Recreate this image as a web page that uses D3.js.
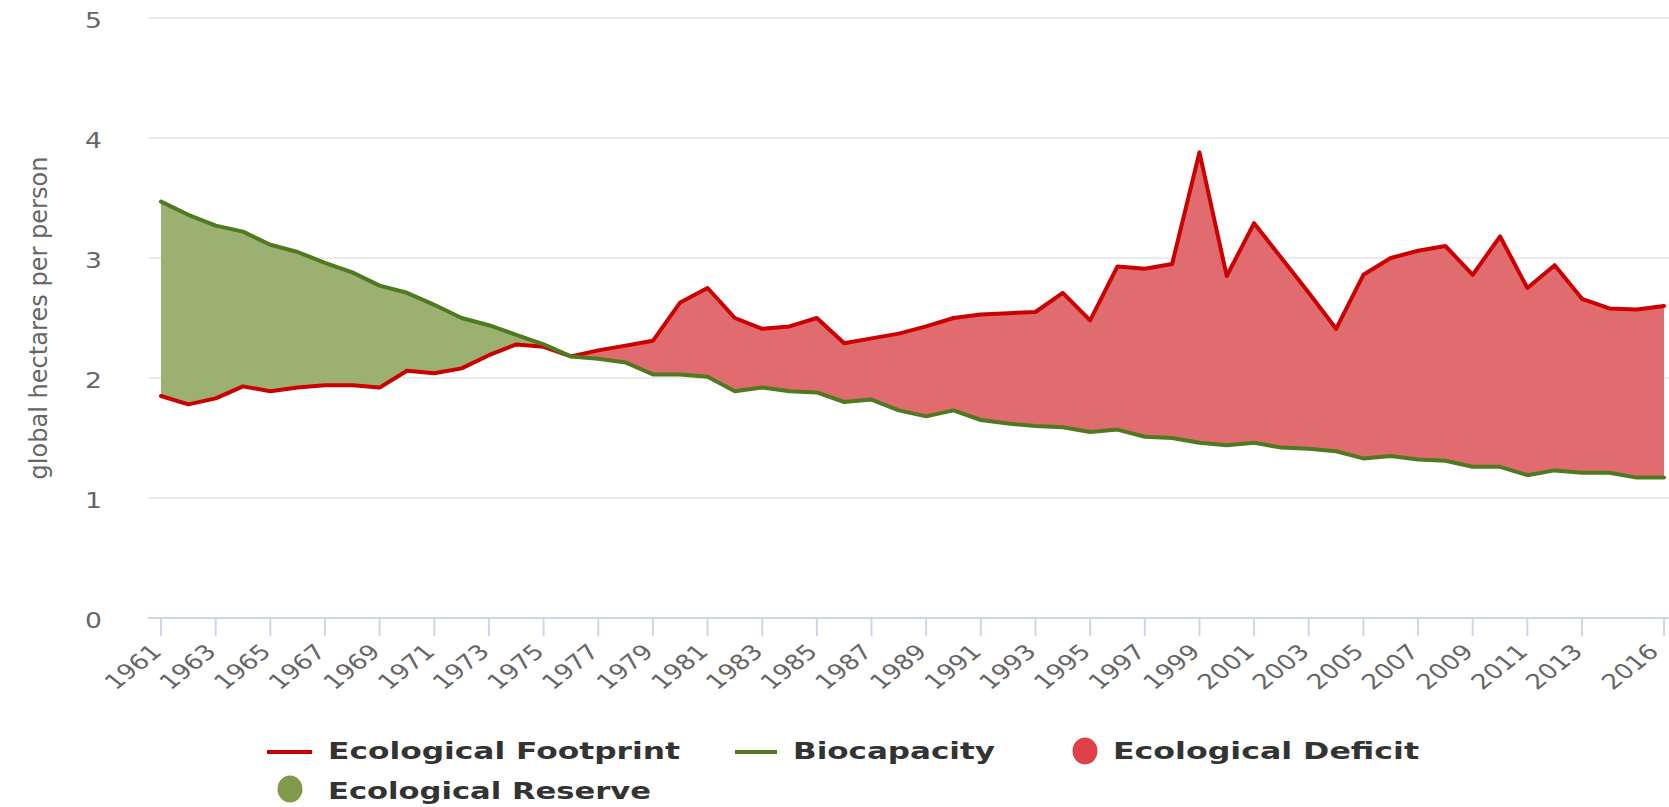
<!DOCTYPE html>
<html>
<head>
<meta charset="utf-8">
<script src="https://cdn.jsdelivr.net/npm/d3@7/dist/d3.min.js"></script>
<style>
  html, body { margin: 0; padding: 0; background: #ffffff; }
  svg { display: block; }
</style>
</head>
<body>
<svg id="chart" width="1669" height="807"></svg>
<script>
// ---------- DATA ----------
const years = [1961,1962,1963,1964,1965,1966,1967,1968,1969,1970,
  1971,1972,1973,1974,1975,1976,1977,1978,1979,1980,
  1981,1982,1983,1984,1985,1986,1987,1988,1989,1990,
  1991,1992,1993,1994,1995,1996,1997,1998,1999,2000,
  2001,2002,2003,2004,2005,2006,2007,2008,2009,2010,
  2011,2012,2013,2014,2015,2016];

const footprint = [1.85,1.78,1.83,1.93,1.89,1.92,1.94,1.94,1.92,2.06,
  2.04,2.08,2.19,2.28,2.26,2.18,2.23,2.27,2.31,2.63,
  2.75,2.50,2.41,2.43,2.50,2.29,2.33,2.37,2.43,2.50,
  2.53,2.54,2.55,2.71,2.48,2.93,2.91,2.95,3.88,2.85,
  3.29,3.00,2.71,2.41,2.86,3.00,3.06,3.10,2.86,3.18,
  2.75,2.94,2.66,2.58,2.57,2.60];

const biocapacity = [3.47,3.36,3.27,3.22,3.11,3.05,2.96,2.88,2.77,2.71,
  2.61,2.50,2.44,2.36,2.28,2.18,2.16,2.13,2.03,2.03,
  2.01,1.89,1.92,1.89,1.88,1.80,1.82,1.73,1.68,1.73,
  1.65,1.62,1.60,1.59,1.55,1.57,1.51,1.50,1.46,1.44,
  1.46,1.42,1.41,1.39,1.33,1.35,1.32,1.31,1.26,1.26,
  1.19,1.23,1.21,1.21,1.17,1.17];

const xTickYears = [1961,1963,1965,1967,1969,1971,1973,1975,1977,1979,
  1981,1983,1985,1987,1989,1991,1993,1995,1997,1999,
  2001,2003,2005,2007,2009,2011,2013,2016];
const yTicks = [0,1,2,3,4,5];
const yTitle = "global hectares per person";
const legendItems = ["Ecological Footprint","Biocapacity","Ecological Deficit","Ecological Reserve"];

// ---------- LAYOUT ----------
const svg = d3.select("#chart");
const X0 = 161, X1 = 1664;     // 1961 .. 2016
const Y0 = 618, Y5 = 18;       // value 0 .. 5
const gridLeft = 148, gridRight = 1669;
const SX = 1.28;

const x = d3.scaleLinear().domain([1961, 2016]).range([X0, X1]);
const y = d3.scaleLinear().domain([0, 5]).range([Y0, Y5]);

const data = years.map((yr, i) => ({ yr, fp: footprint[i], bc: biocapacity[i] }));

const COLORS = {
  fpLine: "#cc0000",
  bcLine: "#4f7a1f",
  deficit: "#e06c70",
  reserve: "#9cb072",
  deficitDot: "#df4246",
  reserveDot: "#7f9b4a",
  grid: "#e6e6e6",
  axis: "#ccd6eb",
  label: "#666666",
  legend: "#333333"
};

// grid lines
svg.append("g").selectAll("line")
  .data(yTicks.filter(v => v > 0))
  .join("line")
  .attr("x1", gridLeft).attr("x2", gridRight)
  .attr("y1", d => y(d)).attr("y2", d => y(d))
  .attr("stroke", COLORS.grid).attr("stroke-width", 1.5);

// y labels
svg.append("g").selectAll("text")
  .data(yTicks)
  .join("text")
  .attr("transform", d => `translate(102,${y(d) + 10}) scale(1.3,1)`)
  .attr("text-anchor", "end")
  .attr("font-family", "DejaVu Sans")
  .attr("font-size", 20.5)
  .attr("fill", COLORS.label)
  .text(d => d);

// y title
svg.append("text")
  .attr("transform", `translate(47,318) scale(${SX},1) rotate(-90)`)
  .attr("text-anchor", "middle")
  .attr("font-family", "DejaVu Sans")
  .attr("font-size", 19.5)
  .attr("fill", COLORS.label)
  .attr("textLength", 323)
  .attr("lengthAdjust", "spacingAndGlyphs")
  .text(yTitle);

// ---------- AREAS ----------
const defs = svg.append("defs");
defs.append("clipPath").attr("id", "clipAbove")
  .append("path").datum(data)
  .attr("d", d3.area().x(d => x(d.yr)).y0(0).y1(d => y(d.fp)));
defs.append("clipPath").attr("id", "clipBelow")
  .append("path").datum(data)
  .attr("d", d3.area().x(d => x(d.yr)).y0(807).y1(d => y(d.fp)));

const between = d3.area().x(d => x(d.yr)).y0(d => y(d.fp)).y1(d => y(d.bc));

svg.append("path").datum(data)
  .attr("clip-path", "url(#clipAbove)")
  .attr("fill", COLORS.reserve)
  .attr("d", between);
svg.append("path").datum(data)
  .attr("clip-path", "url(#clipBelow)")
  .attr("fill", COLORS.deficit)
  .attr("d", between);

// lines
const lineFp = d3.line().x(d => x(d.yr)).y(d => y(d.fp));
const lineBc = d3.line().x(d => x(d.yr)).y(d => y(d.bc));
svg.append("path").datum(data)
  .attr("fill", "none").attr("stroke", COLORS.fpLine)
  .attr("stroke-width", 4).attr("stroke-linejoin", "round").attr("stroke-linecap", "round")
  .attr("d", lineFp);
svg.append("path").datum(data)
  .attr("fill", "none").attr("stroke", COLORS.bcLine)
  .attr("stroke-width", 4).attr("stroke-linejoin", "round").attr("stroke-linecap", "round")
  .attr("d", lineBc);

// ---------- X AXIS ----------
svg.append("line")
  .attr("x1", gridLeft).attr("x2", gridRight)
  .attr("y1", Y0).attr("y2", Y0)
  .attr("stroke", COLORS.axis).attr("stroke-width", 2);

const xt = svg.append("g");
xt.selectAll("line")
  .data(xTickYears)
  .join("line")
  .attr("x1", d => x(d)).attr("x2", d => x(d))
  .attr("y1", Y0).attr("y2", Y0 + 18)
  .attr("stroke", COLORS.axis).attr("stroke-width", 2);

xt.selectAll("text")
  .data(xTickYears)
  .join("text")
  .attr("transform", d => `translate(${Math.min(x(d) + 2, 1660)},653) scale(1.25,1) rotate(-45)`)
  .attr("text-anchor", "end")
  .attr("font-family", "DejaVu Sans")
  .attr("font-size", 21)
  .attr("fill", COLORS.label)
  .text(d => d);

// ---------- LEGEND ----------
const lg = svg.append("g");
lg.append("line").attr("x1", 267).attr("x2", 312).attr("y1", 752).attr("y2", 752)
  .attr("stroke", COLORS.fpLine).attr("stroke-width", 4);
lg.append("line").attr("x1", 735).attr("x2", 777).attr("y1", 752).attr("y2", 752)
  .attr("stroke", COLORS.bcLine).attr("stroke-width", 4);
lg.append("ellipse").attr("cx", 1085).attr("cy", 751).attr("rx", 12.5).attr("ry", 13.5)
  .attr("fill", COLORS.deficitDot);
lg.append("ellipse").attr("cx", 290).attr("cy", 789).attr("rx", 12.5).attr("ry", 13.5)
  .attr("fill", COLORS.reserveDot);

const legendPos = [
  { x: 328, y: 759, w: 352 },
  { x: 793, y: 759, w: 202 },
  { x: 1113, y: 759, w: 306 },
  { x: 328, y: 799, w: 323 }
];
lg.selectAll("text")
  .data(legendItems)
  .join("text")
  .attr("x", (d, i) => legendPos[i].x)
  .attr("y", (d, i) => legendPos[i].y)
  .attr("textLength", (d, i) => legendPos[i].w)
  .attr("lengthAdjust", "spacingAndGlyphs")
  .attr("font-family", "DejaVu Sans")
  .attr("font-weight", "bold")
  .attr("font-size", 22.5)
  .attr("fill", COLORS.legend)
  .text(d => d);
</script>
</body>
</html>
